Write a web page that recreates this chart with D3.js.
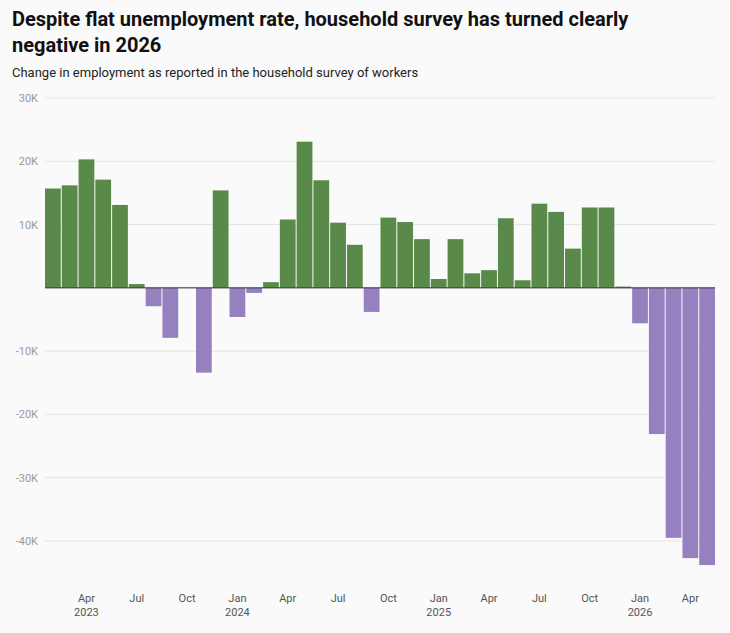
<!DOCTYPE html>
<html><head><meta charset="utf-8">
<script src="https://cdn.jsdelivr.net/npm/d3@7"></script>
<style>body{margin:0;background:#fafafa;font-family:Roboto,sans-serif}</style>
</head><body><svg id="c" width="730" height="633"></svg>
<script>
const months = d3.range(40).map(i => new Date(2023, 1 + i, 1));
const values = [15.7,16.2,20.3,17.1,13.1,0.6,-2.9,-7.9,0,-13.4,15.4,-4.6,-0.8,0.9,10.8,23.1,17.0,10.3,6.8,-3.8,11.1,10.4,7.7,1.4,7.7,2.3,2.8,11.0,1.2,13.3,12.0,6.2,12.7,12.7,0.2,-5.6,-23.1,-39.5,-42.7,-43.8];
const yTicks = [30,20,10,0,-10,-20,-30,-40];
const yLabels = ["30K","20K","10K","","-10K","-20K","-30K","-40K"];

const svg = d3.select("#c");
svg.append("rect").attr("width",730).attr("height",633).attr("fill","#fafafa");
svg.append("text").attr("x",12).attr("y",26).attr("font-size",20).attr("font-weight",700).attr("fill","#111").text("Despite flat unemployment rate, household survey has turned clearly");
svg.append("text").attr("x",12).attr("y",52).attr("font-size",20).attr("font-weight",700).attr("fill","#111").text("negative in 2026");
svg.append("text").attr("x",12).attr("y",77).attr("font-size",13).attr("fill","#222").text("Change in employment as reported in the household survey of workers");

const x = d3.scaleBand().domain(months.map((d,i)=>i)).range([45,715]).paddingInner(0.06);
const y = d3.scaleLinear().domain([-40,30]).range([541,98]);

svg.append("g").selectAll("line").data(yTicks).join("line")
 .attr("x1",45).attr("x2",715).attr("y1",d=>y(d)).attr("y2",d=>y(d))
 .attr("stroke","#e4e4e4");
svg.append("g").selectAll("text").data(yTicks).join("text")
 .attr("x",38).attr("y",d=>y(d)+4).attr("text-anchor","end").attr("font-size",11).attr("fill","#999")
 .text((d,i)=>yLabels[i]);

svg.append("g").selectAll("rect").data(values).join("rect")
 .attr("x",(d,i)=>x(i)).attr("width",x.bandwidth())
 .attr("y",d=>y(Math.max(0,d))).attr("height",d=>Math.abs(y(d)-y(0)))
 .attr("fill",d=>d>=0?"#5a8a4a":"#9580c0");

svg.append("line").attr("x1",45).attr("x2",715).attr("y1",y(0)).attr("y2",y(0)).attr("stroke","#333").attr("stroke-width",1);

const fmt = d3.timeFormat("%b");
months.forEach((m,i)=>{
  const mo = m.getMonth();
  if (mo%3!==0) return;
  const cx = x(i)+x.bandwidth()/2;
  svg.append("text").attr("x",cx).attr("y",602).attr("text-anchor","middle").attr("font-size",11).attr("fill","#555").text(fmt(m));
  if (mo===0 || i===2) svg.append("text").attr("x",cx).attr("y",616).attr("text-anchor","middle").attr("font-size",11).attr("fill","#555").text(m.getFullYear());
});
</script></body></html>
